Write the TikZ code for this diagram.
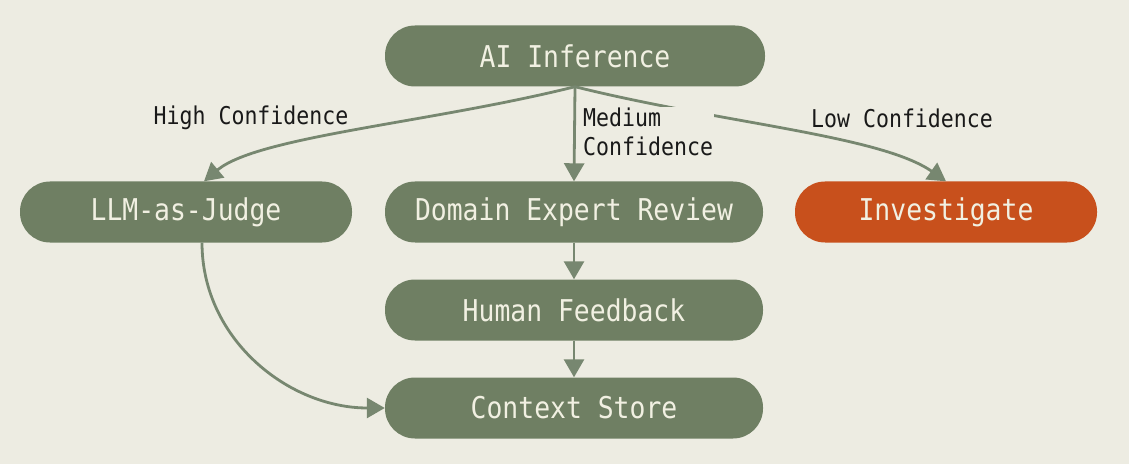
\documentclass[tikz,border=0pt]{standalone}
\usepackage{fontspec}
\newfontfamily\monofont[FakeStretch=0.88]{DejaVu Sans Mono}
\usetikzlibrary{arrows.meta,positioning}
\definecolor{paper}{HTML}{EDECE2}
\definecolor{sage}{HTML}{6F7F63}
\definecolor{wire}{HTML}{778770}
\definecolor{rust}{HTML}{C8501C}
\definecolor{cream}{HTML}{F1F0E2}
\begin{document}
\begin{tikzpicture}[x=1pt, y=1pt,
    box/.style={fill=sage, text=cream, rounded corners=30pt, minimum height=61pt, inner sep=0pt, font=\monofont\fontsize{30}{34}\selectfont},
    flow/.style={draw=wire, line width=2.8pt, arrows={-Triangle[length=18pt, width=20pt]}},
    tag/.style={text=black!90, inner sep=1pt, font=\monofont\fontsize{24.5}{29}\selectfont}]
    \fill[paper] (0,0) rectangle (1129,464);
    \useasboundingbox (0,0) rectangle (1129,464);

    % boxes
    \node[box, minimum width=380pt] (ai) at (575,408) {AI Inference};
    \node[box, minimum width=332pt] (judge) at (186,252) {LLM-as-Judge};
    \node[box, minimum width=378pt] (review) at (574,252) {Domain Expert Review};
    \node[box, minimum width=302pt, fill=rust] (invest) at (946,252) {Investigate};
    \node[box, minimum width=378pt] (human) at (574,154) {Human Feedback};
    \node[box, minimum width=378pt] (store) at (574,56) {Context Store};

    % branches by confidence
    \draw[flow] (ai.south) to[out=194, in=40, out distance=150pt, in distance=70pt] ([xshift=18pt]judge.north);
    \draw[flow] (ai.south) to[out=-14, in=145, out distance=150pt, in distance=80pt] (invest.north);
    \node[tag] (high) at (251,346) {High Confidence};
    \node[tag, fill=paper, anchor=west, align=left] (medium) at (582,332) {Medium\\Confidence};
    \node[tag] (low) at (902,346) {Low Confidence};
    \draw[flow] (ai.south) -- (review.north);

    % review chain
    \draw[flow] (review.south) -- (human.north);
    \draw[flow] (human.south) -- (store.north);
    \draw[flow] ([xshift=16pt]judge.south) to[out=-90, in=180] (store.west);
\end{tikzpicture}
\end{document}
